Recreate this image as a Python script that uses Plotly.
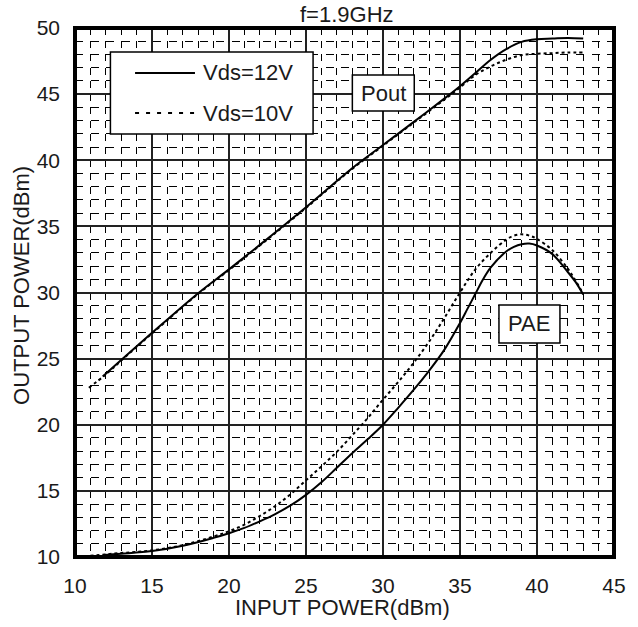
import plotly.graph_objects as go

# Output power (dBm) vs input power (dBm), f = 1.9 GHz
pout_12v_pin = [11.8, 13, 15, 18, 20, 22, 25, 28, 30, 32, 34, 35, 36, 37, 38, 39, 40, 41, 42, 43]
pout_12v = [23.65, 24.9, 26.95, 29.95, 31.75, 33.6, 36.45, 39.4, 41.15, 42.9, 44.68, 45.6,
            46.6, 47.6, 48.4, 48.95, 49.15, 49.2, 49.25, 49.2]

pout_10v_pin = [10.9, 12, 13, 15, 18, 20, 22, 25, 28, 30, 32, 34, 35, 36, 37, 38, 39, 40, 41, 42, 43]
pout_10v = [22.8, 23.8, 24.85, 26.9, 29.9, 31.7, 33.55, 36.4, 39.35, 41.1, 42.85, 44.6, 45.5,
            46.45, 47.1, 47.6, 47.95, 48.05, 48.1, 48.15, 48.15]

# Power added efficiency (%)
pae_12v_pin = [11.8, 13, 15, 17, 19, 20, 21, 22, 23, 24, 25, 26, 27, 28, 29, 30, 31, 32, 33, 34,
               35, 35.5, 36, 36.5, 37, 38, 38.5, 39, 39.5, 40, 41, 42, 42.5, 43]
pae_12v = [10.15, 10.25, 10.45, 10.85, 11.45, 11.8, 12.2, 12.7, 13.25, 13.9, 14.7, 15.65, 16.75,
           17.85, 18.9, 20.0, 21.3, 22.65, 24.1, 25.7, 27.7, 28.8, 29.9, 31.0, 31.9, 33.1, 33.45,
           33.65, 33.7, 33.55, 32.9, 31.55, 30.8, 29.85]

pae_10v_pin = [11, 13, 15, 17, 19, 20, 21, 22, 23, 24, 25, 26, 27, 28, 29, 30, 31, 32, 33, 34, 35,
               36, 37, 38, 38.5, 39, 39.5, 40, 41, 42, 42.5, 43]
pae_10v = [10.1, 10.3, 10.5, 10.9, 11.55, 11.95, 12.45, 13.1, 13.85, 14.75, 15.8, 16.85, 17.95,
           19.2, 20.5, 21.9, 23.25, 24.7, 26.3, 28.1, 30.0, 31.75, 33.0, 34.0, 34.3, 34.4, 34.3,
           34.05, 33.2, 31.8, 30.9, 29.9]

x_ticks = [10, 15, 20, 25, 30, 35, 40, 45]
y_ticks = [10, 15, 20, 25, 30, 35, 40, 45, 50]

FONT = "Liberation Sans, Arial, sans-serif"
TXT = "#1a1a1a"

fig = go.Figure()

solid = dict(color="black", width=2)
dotted = dict(color="black", width=2, dash="3px,3px")
legend_dotted = dict(color="black", width=2, dash="4px,7px")

fig.add_trace(go.Scatter(x=pout_12v_pin, y=pout_12v, mode="lines", line=solid,
                         line_shape="spline", showlegend=False))
fig.add_trace(go.Scatter(x=pout_10v_pin, y=pout_10v, mode="lines", line=dotted,
                         line_shape="spline", showlegend=False))
fig.add_trace(go.Scatter(x=pae_12v_pin, y=pae_12v, mode="lines", line=solid,
                         line_shape="spline", showlegend=False))
fig.add_trace(go.Scatter(x=pae_10v_pin, y=pae_10v, mode="lines", line=dotted,
                         line_shape="spline", showlegend=False))

axis_common = dict(
    showgrid=True, gridcolor="#222222", gridwidth=1.5,
    zeroline=False, showline=False, ticks="",
    tickfont=dict(family=FONT, size=21, color=TXT),
)

fig.update_xaxes(range=[10, 45], tickvals=x_ticks, ticklabelstandoff=14,
                 minor=dict(dtick=1, showgrid=True, gridcolor="black", gridwidth=1.1,
                            griddash="7px,6.225px"),
                 **axis_common)
fig.update_yaxes(range=[10, 50], tickvals=y_ticks, ticklabelstandoff=14,
                 minor=dict(dtick=1, showgrid=True, gridcolor="black", gridwidth=1.1,
                            griddash="8px,7.657px"),
                 **axis_common)

shapes = [
    # plot frame
    dict(type="rect", xref="paper", yref="paper", x0=0, x1=1, y0=0, y1=1,
         line=dict(color="black", width=4)),
    # legend box
    dict(type="rect", x0=12.3, x1=25.46, y0=41.98, y1=48.19,
         fillcolor="white", line=dict(color="black", width=1.5), layer="above"),
    dict(type="line", x0=13.9, x1=17.79, y0=46.6, y1=46.6, line=solid),
    dict(type="line", x0=13.9, x1=17.79, y0=43.57, y1=43.57, line=legend_dotted),
    # curve labels
    dict(type="rect", x0=28.01, x1=32.03, y0=43.72, y1=46.45,
         fillcolor="white", line=dict(color="black", width=1.5)),
    dict(type="rect", x0=37.53, x1=41.49, y0=26.18, y1=29.05,
         fillcolor="white", line=dict(color="black", width=1.5)),
]

ann_font = dict(family=FONT, size=22, color=TXT)
annotations = [
    dict(text="Vds=12V", x=18.18, y=46.6, xanchor="left", yanchor="middle",
         showarrow=False, font=ann_font),
    dict(text="Vds=10V", x=18.18, y=43.57, xanchor="left", yanchor="middle",
         showarrow=False, font=ann_font),
    dict(text="Pout", x=30.02, y=45.08, xanchor="center", yanchor="middle",
         showarrow=False, font=ann_font),
    dict(text="PAE", x=39.51, y=27.62, xanchor="center", yanchor="middle",
         showarrow=False, font=ann_font),
    dict(text="f=1.9GHz", xref="paper", yref="paper", x=0.505, y=1.0246,
         xanchor="center", yanchor="middle", showarrow=False,
         font=dict(family=FONT, size=22, color=TXT)),
    dict(text="INPUT POWER(dBm)", xref="paper", yref="paper", x=0.496, y=-0.0964,
         xanchor="center", yanchor="middle", showarrow=False, font=ann_font),
    dict(text="OUTPUT POWER(dBm)", xref="paper", yref="paper", x=-0.1004, y=0.514,
         xanchor="center", yanchor="middle", textangle=-90, showarrow=False,
         font=ann_font),
]

fig.update_layout(
    width=638, height=627,
    margin=dict(l=75, r=15, t=28, b=70),
    paper_bgcolor="white", plot_bgcolor="white",
    shapes=shapes, annotations=annotations,
    showlegend=False,
)

fig.write_html("out.html")
